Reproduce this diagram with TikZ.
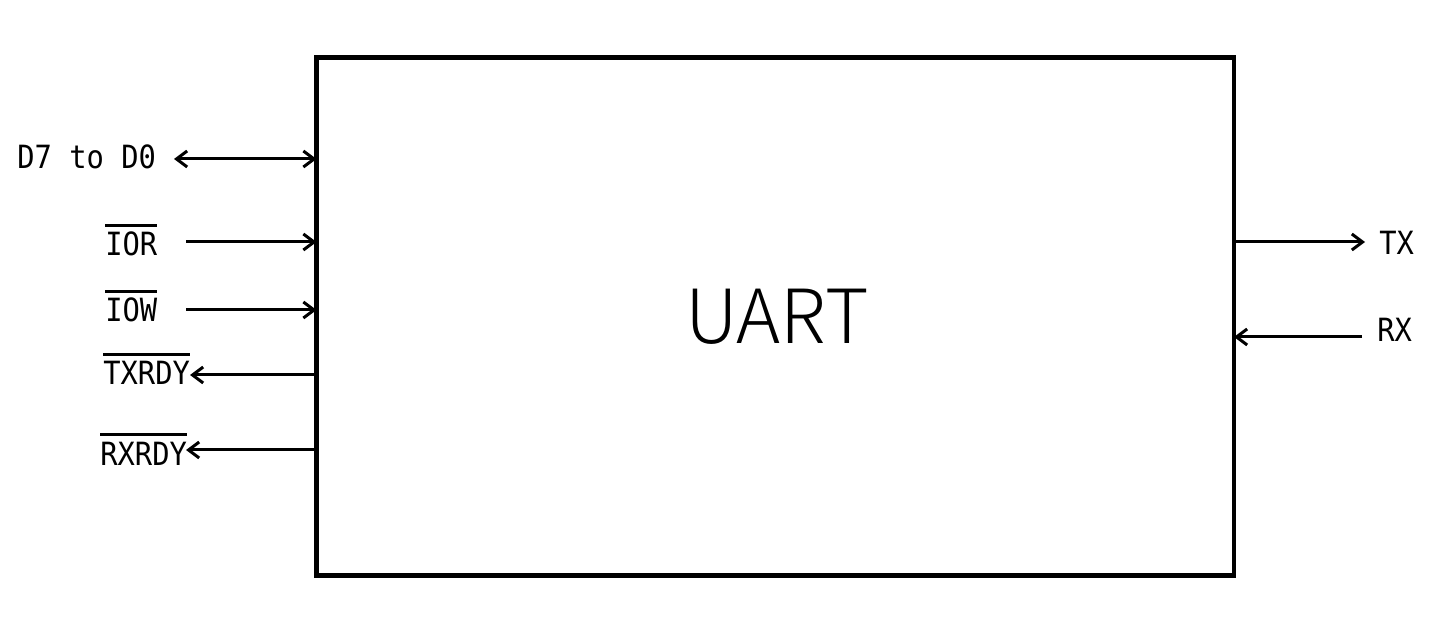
\documentclass[tikz,border=0pt]{standalone}
\usepackage{fontspec}
\usetikzlibrary{arrows.meta}
\newfontfamily\lblfont[FakeStretch=0.9]{DejaVu Sans Mono}
\newfontfamily\titlefont[UprightFont={* Light}]{Noto Sans CJK SC}
\newcommand{\ovl}[1]{\vbox{\hrule height 2pt\kern 4.2pt\hbox{#1}}}
\begin{document}
\begin{tikzpicture}[x=0.75pt,y=-0.75pt,
  sig/.style={line width=2.25pt,arrows={-Straight Barb[length=8pt,width=12pt]}},
  sigboth/.style={line width=2.25pt,arrows={Straight Barb[length=8pt,width=12pt]-Straight Barb[length=8pt,width=12pt]}},
  lbl/.style={inner sep=0pt,anchor=base west,font=\lblfont\fontsize{24}{27}\selectfont},
  blk/.style={draw,line width=3.4pt,rectangle,outer sep=0pt,inner sep=0pt,
    minimum width=688.1pt,minimum height=388.5pt,font=\titlefont\fontsize{56}{62}\selectfont}]
\useasboundingbox (0,0) rectangle (1445,630);
\node[blk] (uart) at (775.25,316.5) {\hspace*{3pt}\raisebox{-2.25pt}{UART}};
% labels
\node[lbl] (d7) at (17,169) {D7 to D0};
\node[lbl] (ior) at (105,256) {\ovl{IOR}};
\node[lbl] (iow) at (105,322) {\ovl{IOW}};
\node[lbl] (txrdy) at (103,385) {\ovl{TXRDY}};
\node[lbl] (rxrdy) at (100,465) {\ovl{RXRDY}};
\node[lbl] (tx) at (1379,255) {TX};
\node[lbl] (rx) at (1377,342) {RX};
% free ends
\coordinate (d7e) at (174,159);
\coordinate (iore) at (186,242);
\coordinate (iowe) at (186,310);
\coordinate (txrdye) at (190,375);
\coordinate (rxrdye) at (186,450);
\coordinate (txe) at (1365,242);
\coordinate (rxe) at (1362,337);
% connectors
\draw[sigboth] (d7e) -- (d7e -| uart.west);
\draw[sig] (iore) -- (iore -| uart.west);
\draw[sig] (iowe) -- (iowe -| uart.west);
\draw[sig] (txrdye -| uart.west) -- (txrdye);
\draw[sig] (rxrdye -| uart.west) -- (rxrdye);
\draw[sig] (txe -| uart.east) -- (txe);
\draw[sig] (rxe) -- (rxe -| uart.east);
\end{tikzpicture}
\end{document}
